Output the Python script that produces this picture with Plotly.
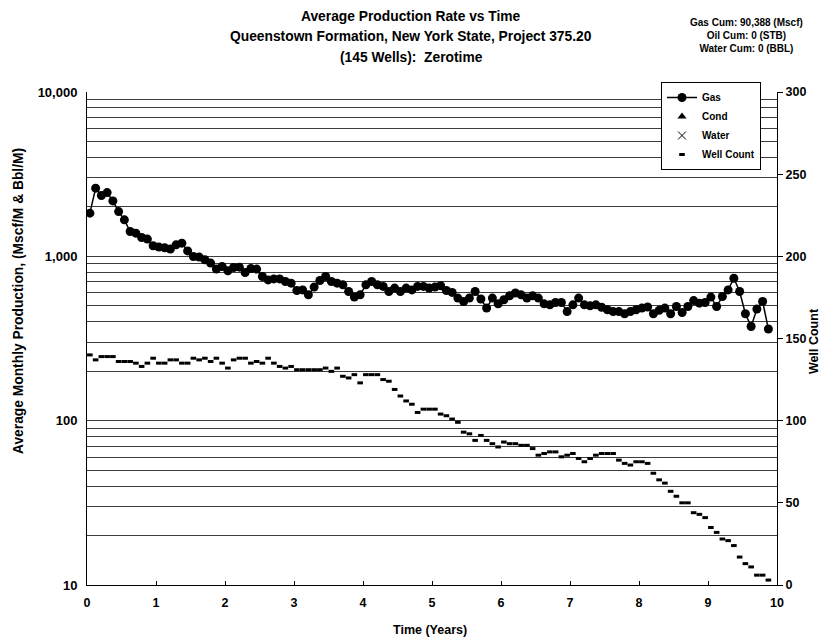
import numpy as np
import plotly.graph_objects as go

# ---- data ----
gas = [1832, 2600, 2344, 2442, 2174, 1872, 1667, 1416, 1384, 1301, 1273, 1159, 1138, 1128, 1107,
       1175, 1203, 1079, 997, 989, 953, 910, 836, 867, 816, 855, 859, 797, 843, 836, 754,
       719, 729, 729, 703, 687, 620, 625, 583, 650, 713, 754, 703, 687, 671, 611, 565, 583,
       671, 703, 671, 656, 611, 641, 611, 641, 625, 656, 656, 641,
       650, 662, 620, 603, 557, 531, 557, 611, 550, 484, 557, 514, 544, 576, 598, 583, 557,
       576, 557, 514, 507, 524, 524, 461, 507, 557, 507, 500, 507, 490,
       473, 461, 461, 447, 461, 473, 484, 492, 447, 469, 484, 447, 495, 455, 495, 538, 519,
       524, 565, 495, 570, 625, 736, 611, 447, 374, 478, 531, 361]

well_count = [140, 137, 139, 139, 139, 136, 136, 136, 135, 133,
              135, 138, 135, 135, 137, 137, 135, 135, 138, 137,
              138, 136, 138, 135, 132, 137, 138, 138, 135, 136,
              135, 138, 135, 133, 132, 133, 131, 131, 131, 131,
              131, 132, 130, 132, 127, 126, 128, 123, 128, 128,
              128, 125, 124, 119, 115, 112, 110, 105, 107, 107,
              107, 104, 103, 101, 99, 93, 92, 88, 91, 88,
              86, 84, 87, 86, 86, 85, 85, 83, 79, 80,
              81, 81, 78, 79, 80, 77, 75, 77, 79, 80,
              80, 80, 76, 74, 73, 75, 75, 74, 68, 64,
              62, 57, 54, 50, 50, 44, 43, 41, 35, 32,
              28, 27, 24, 17, 13, 11, 6, 6, 3]

# condensate and water: no production (nothing plotted on the log axis)
cond = [None]
water = [None]

months = np.arange(len(gas))
time_years = (months + 0.5) / 12.0

x_ticks = list(range(0, 11))
left_majors = [10, 100, 1000, 10000]
left_major_text = ["10", "100", "1,000", "10,000"]
right_ticks = [0, 50, 100, 150, 200, 250, 300]

title_lines = ["Average Production Rate vs Time",
               "Queenstown Formation, New York State, Project 375.20",
               "(145 Wells):  Zerotime"]
cum_lines = ["Gas Cum: 90,388 (Mscf)", "Oil Cum: 0 (STB)", "Water Cum: 0 (BBL)"]

# gridlines at every 1..9 multiple of each decade, labels only at majors
grid_vals, grid_text = [], []
for d in [10, 100, 1000]:
    for m in range(1, 10):
        v = d * m
        grid_vals.append(v)
        grid_text.append(left_major_text[left_majors.index(v)] if v in left_majors else "")
grid_vals.append(10000)
grid_text.append("10,000")

FONT = "Liberation Sans, Arial, sans-serif"

fig = go.Figure()
fig.add_trace(go.Scatter(x=time_years, y=gas, name="Gas", mode="lines+markers",
                         line=dict(color="black", width=1.5),
                         marker=dict(symbol="circle", size=9, color="black")))
fig.add_trace(go.Scatter(x=cond, y=cond, name="Cond", mode="markers",
                         marker=dict(symbol="triangle-up", size=8, color="black")))
fig.add_trace(go.Scatter(x=water, y=water, name="Water", mode="markers",
                         marker=dict(symbol="x-thin-open", size=8, color="black",
                                     line=dict(width=1, color="black"))))
fig.add_trace(go.Scatter(x=time_years, y=well_count, name="Well Count", mode="markers",
                         yaxis="y2",
                         marker=dict(symbol="line-ew", size=4, color="black",
                                     line=dict(width=3, color="black"))))

PL, PR, PT, PB = 87, 777, 92, 585
W, H = 824, 643
pw, ph = PR - PL, PB - PT


def px(xp):
    return (xp - PL) / pw


def py(yp):
    return (PB - yp) / ph


annotations = []
for txt, yp in zip(title_lines, [17, 37, 57]):
    annotations.append(dict(text="<b>%s</b>" % txt, x=px(411), y=py(yp), xref="paper", yref="paper",
                            showarrow=False, xanchor="center", yanchor="middle",
                            font=dict(size=13.8, family=FONT, color="black")))
annotations.append(dict(text="<b>" + "<br>".join(cum_lines) + "</b>", x=px(746), y=py(35),
                        xref="paper", yref="paper", showarrow=False, xanchor="center",
                        yanchor="middle", align="center",
                        font=dict(size=10, family=FONT, color="black")))
annotations.append(dict(text="<b>Average Monthly Production, (Mscf/M & Bbl/M)</b>", x=px(18), y=py(301),
                        xref="paper", yref="paper", showarrow=False, textangle=-90,
                        xanchor="center", yanchor="middle",
                        font=dict(size=13.8, family=FONT, color="black")))
annotations.append(dict(text="<b>Well Count</b>", x=px(814), y=py(341),
                        xref="paper", yref="paper", showarrow=False, textangle=-90,
                        xanchor="center", yanchor="middle",
                        font=dict(size=12.5, family=FONT, color="black")))
annotations.append(dict(text="<b>Time (Years)</b>", x=px(430), y=py(630),
                        xref="paper", yref="paper", showarrow=False,
                        xanchor="center", yanchor="middle",
                        font=dict(size=12.5, family=FONT, color="black")))

fig.update_layout(
    width=W, height=H,
    margin=dict(l=PL, r=W - PR, t=PT, b=H - PB, pad=0),
    paper_bgcolor="white", plot_bgcolor="white",
    font=dict(family=FONT, color="black", size=12),
    showlegend=True,
    legend=dict(x=px(661), y=py(82), xanchor="left", yanchor="top",
                bgcolor="white", bordercolor="black", borderwidth=1,
                font=dict(size=10, family=FONT, color="black", weight="bold"),
                tracegroupgap=0, itemwidth=30),
    xaxis=dict(range=[0, 10], tickvals=x_ticks, ticks="inside", ticklen=4, tickcolor="black",
               showline=True, linecolor="black", linewidth=1, showgrid=False, zeroline=False,
               ticklabelstandoff=6,
               tickfont=dict(size=12.5, weight="bold")),
    yaxis=dict(type="log", range=[1, 4], tickvals=grid_vals, ticktext=grid_text, ticks="",
               showline=True, linecolor="black", linewidth=1, showgrid=True,
               gridcolor="#3c3c3c", gridwidth=1, zeroline=False,
               ticklabelstandoff=6,
               tickfont=dict(size=13, weight="bold")),
    yaxis2=dict(overlaying="y", side="right", range=[0, 300], tickvals=right_ticks,
                ticks="outside", ticklen=5, tickcolor="black",
                showline=True, linecolor="black", linewidth=1, showgrid=False, zeroline=False,
                tickfont=dict(size=12.5, weight="bold")),
    annotations=annotations,
)

fig.write_html("out.html")
